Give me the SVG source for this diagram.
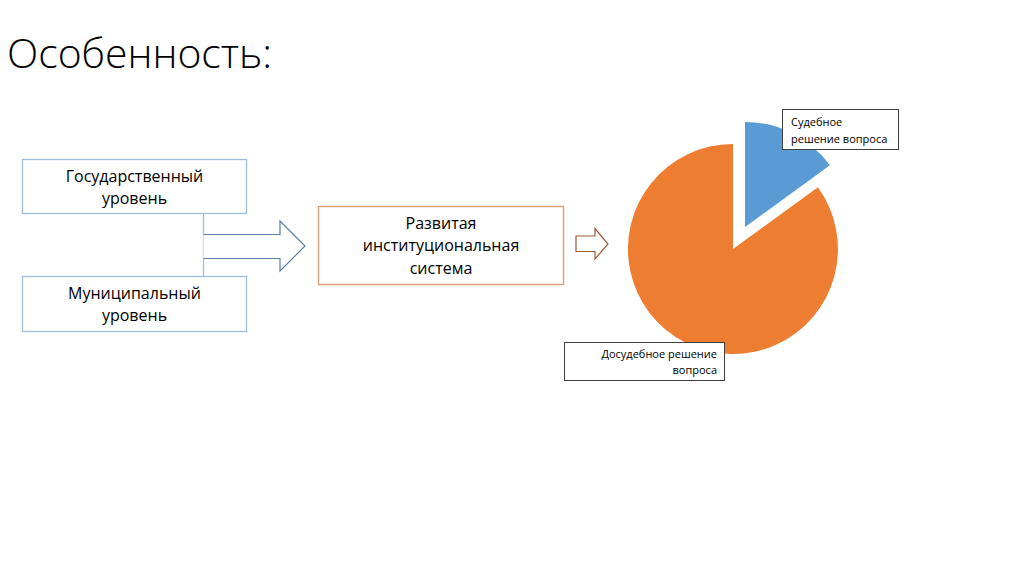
<svg xmlns="http://www.w3.org/2000/svg" width="1024" height="574" viewBox="0 0 1024 574">
<style>
text{font-family:"Open Sans","Liberation Sans",sans-serif;fill:#000}
.lb{fill:#fff;stroke:#9dbfe0;stroke-width:1.3}
.mb{fill:#fff;stroke:#d9a37c;stroke-width:1.5}
.t15{font-size:16px}
.t11{font-size:11px}
.lab{fill:#fff;stroke:#404040;stroke-width:1}
</style>
<rect width="1024" height="574" fill="#fff"/>
<text x="7" y="68" font-size="40" font-weight="300" textLength="265" lengthAdjust="spacingAndGlyphs">Особенность:</text>
<g id="connectors">
<line x1="203.5" y1="213" x2="203.5" y2="276" stroke="#9dbfe0" stroke-width="1.3"/>
<path d="M203.5,234.5 H280 V221 L305,246 L280,271 V258.5 H203.5" fill="#fff" stroke="#5b7fa8" stroke-width="1.2"/>
<path d="M576,236 H595 V228.5 L608,244 L595,259 V251.5 H576 Z" fill="#fff" stroke="#9a5a36" stroke-width="1.2"/>
</g>
<g id="gos">
<rect class="lb" x="22.5" y="159.5" width="224" height="54"/>
<text class="t15" x="134.5" y="182" text-anchor="middle">Государственный</text>
<text class="t15" x="134.5" y="204" text-anchor="middle">уровень</text>
</g>
<g id="mun">
<rect class="lb" x="22.5" y="276.5" width="224" height="55"/>
<text class="t15" x="134.5" y="299" text-anchor="middle">Муниципальный</text>
<text class="t15" x="134.5" y="321" text-anchor="middle">уровень</text>
</g>
<g id="razv">
<rect class="mb" x="318.5" y="206.5" width="245" height="78"/>
<text class="t15" x="441" y="228.5" text-anchor="middle">Развитая</text>
<text class="t15" x="441" y="251" text-anchor="middle">институциональная</text>
<text class="t15" x="441" y="273.5" text-anchor="middle">система</text>
</g>
<g id="pie">
<path d="M733,249 L817.9,187.3 A105,105 0 1,1 733,144 Z" fill="#ed7d31"/>
<path d="M745,227 L745,122 A105,105 0 0,1 829.9,165.3 Z" fill="#5b9bd5"/>
</g>
<g id="label-sud">
<rect class="lab" x="782.5" y="109.5" width="116" height="40"/>
<text class="t11" x="791" y="126">Судебное</text>
<text class="t11" x="791" y="143">решение вопроса</text>
</g>
<g id="label-dosud">
<rect class="lab" x="564.5" y="342.5" width="160" height="38"/>
<text class="t11" x="717" y="358" text-anchor="end">Досудебное решение</text>
<text class="t11" x="717" y="374" text-anchor="end">вопроса</text>
</g>
</svg>
